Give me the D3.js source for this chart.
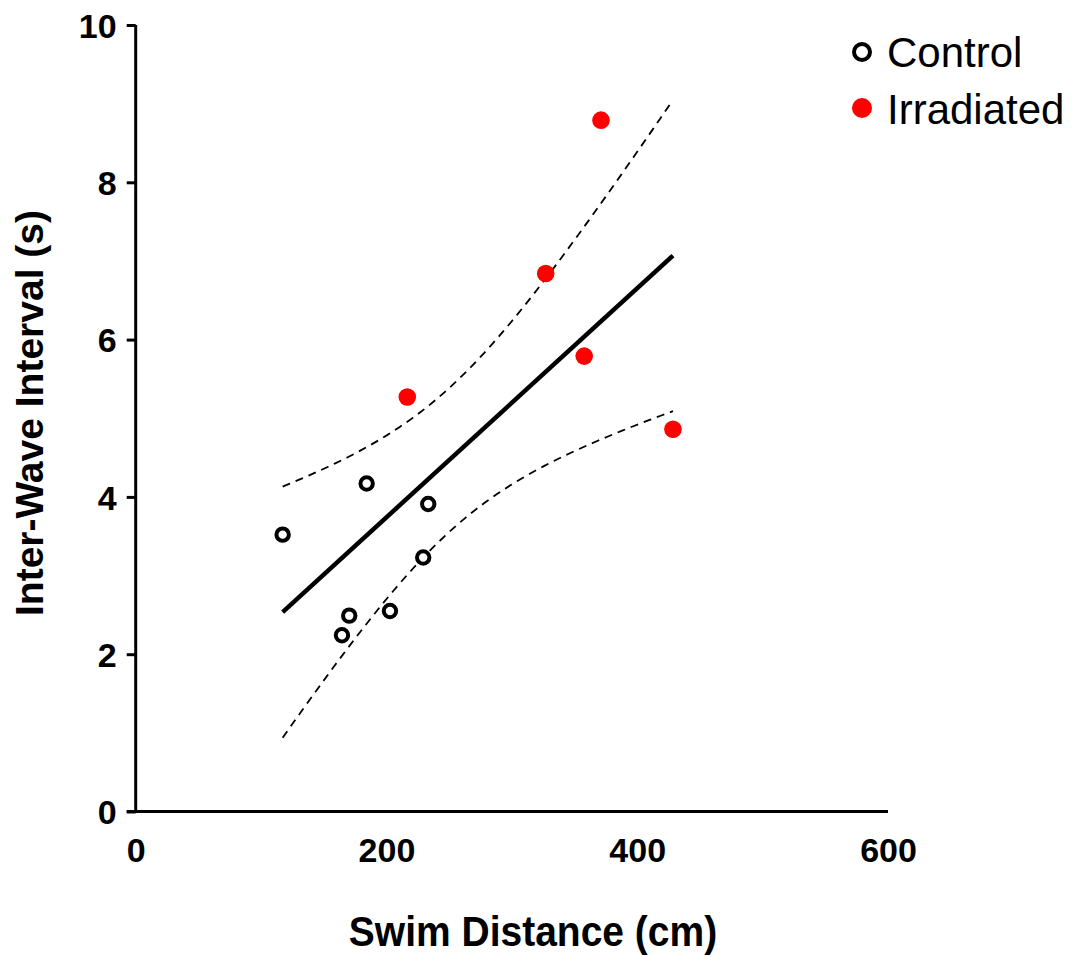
<!DOCTYPE html>
<html><head><meta charset="utf-8">
<script src="https://cdn.jsdelivr.net/npm/d3@7"></script>
<style>body{margin:0;background:#fff}svg{display:block}text{font-family:"Liberation Sans",Arial,sans-serif}</style>
</head><body><svg id="c" width="1078" height="957"></svg>
<script>
const controlX = [117.2, 184.2, 233.3, 229.3, 202.8, 170.3, 164.5];
const controlY = [3.52, 4.17, 3.91, 3.23, 2.55, 2.49, 2.24];
const irradX = [216.6, 327.0, 371.1, 357.7, 428.5];
const irradY = [5.27, 6.84, 8.79, 5.79, 4.86];
const xTicks = [0, 200, 400, 600];
const yTicks = [0, 2, 4, 6, 8, 10];
const seriesNames = ["Control", "Irradiated"];
const xTitle = "Swim Distance (cm)";
const yTitle = "Inter-Wave Interval (s)";

const svg = d3.select("#c");
const x = d3.scaleLinear().domain([0, 600]).range([135.7, 888]);
const y = d3.scaleLinear().domain([0, 10]).range([811.5, 25]);

// regression + 95% CI
const allX = controlX.concat(irradX), allY = controlY.concat(irradY);
const n = allX.length, mx = d3.mean(allX), my = d3.mean(allY);
let sxx = 0, sxy = 0;
for (let i = 0; i < n; i++) { sxx += (allX[i]-mx)**2; sxy += (allX[i]-mx)*(allY[i]-my); }
const b = sxy/sxx, a = my - b*mx;
let sse = 0;
for (let i = 0; i < n; i++) sse += (allY[i] - (a + b*allX[i]))**2;
const s = Math.sqrt(sse/(n-2)), t = 2.228;
const x0 = d3.min(allX), x1 = d3.max(allX);
const xs = d3.range(0, 61).map(i => x0 + (x1-x0)*i/60);
const hw = v => t*s*Math.sqrt(1/n + (v-mx)**2/sxx);

const line = d3.line().x(d => x(d[0])).y(d => y(d[1]));
[1, -1].forEach(sg => {
  svg.append("path").attr("d", line(xs.map(v => [v, a+b*v+sg*hw(v)])))
    .attr("fill","none").attr("stroke","#000").attr("stroke-width",1.8).attr("stroke-dasharray","8,6");
});
svg.append("path").attr("d", line([[x0, a+b*x0],[x1, a+b*x1]]))
  .attr("fill","none").attr("stroke","#000").attr("stroke-width",4.5);

// axes
const yAxis = svg.append("g").attr("transform", `translate(${x(0)},0)`)
  .call(d3.axisLeft(y).tickValues(yTicks).tickSize(9).tickPadding(10).tickFormat(d3.format("d")));
yAxis.select(".domain").attr("stroke-width",3).attr("d", `M0,${y(10)}V${y(0)}`);
yAxis.selectAll(".tick line").attr("stroke-width",3);
yAxis.selectAll(".tick text").attr("font-size",34).attr("font-weight","bold").attr("fill","#000")
  .attr("font-family","Liberation Sans, Arial, sans-serif").attr("x",-19).attr("dy","0.36em");

const xAxis = svg.append("g").attr("transform", `translate(0,${y(0)})`)
  .call(d3.axisBottom(x).tickValues(xTicks).tickSize(0).tickFormat(d3.format("d")));
xAxis.select(".domain").attr("stroke-width",3).attr("d", `M${x(0)-9},0H${x(600)}`);
xAxis.selectAll(".tick text").attr("font-size",34).attr("font-weight","bold").attr("fill","#000")
  .attr("font-family","Liberation Sans, Arial, sans-serif").attr("y",50.5).attr("dy",0);

// points
svg.append("g").selectAll("circle").data(controlX.map((v,i)=>[v,controlY[i]])).join("circle")
  .attr("cx", d=>x(d[0])).attr("cy", d=>y(d[1])).attr("r",6.2)
  .attr("fill","#fff").attr("stroke","#000").attr("stroke-width",4);
svg.append("g").selectAll("circle").data(irradX.map((v,i)=>[v,irradY[i]])).join("circle")
  .attr("cx", d=>x(d[0])).attr("cy", d=>y(d[1])).attr("r",8.8).attr("fill","#ff0000");

// titles
svg.append("text").attr("transform","translate(533,946) scale(1,1.1)").attr("text-anchor","middle")
  .attr("font-size",39).attr("font-weight","bold").text(xTitle);
svg.append("text").attr("transform","translate(43,413) rotate(-90)").attr("text-anchor","middle")
  .attr("font-size",39).attr("font-weight","bold").text(yTitle);

// legend
const lg = svg.append("g");
lg.append("circle").attr("cx",862).attr("cy",52).attr("r",8).attr("fill","#fff").attr("stroke","#000").attr("stroke-width",4);
lg.append("circle").attr("cx",862).attr("cy",108).attr("r",10).attr("fill","#ff0000");
lg.append("text").attr("x",887).attr("y",67).attr("font-size",42).text(seriesNames[0]);
lg.append("text").attr("x",887).attr("y",124).attr("font-size",42).text(seriesNames[1]);
</script></body></html>
